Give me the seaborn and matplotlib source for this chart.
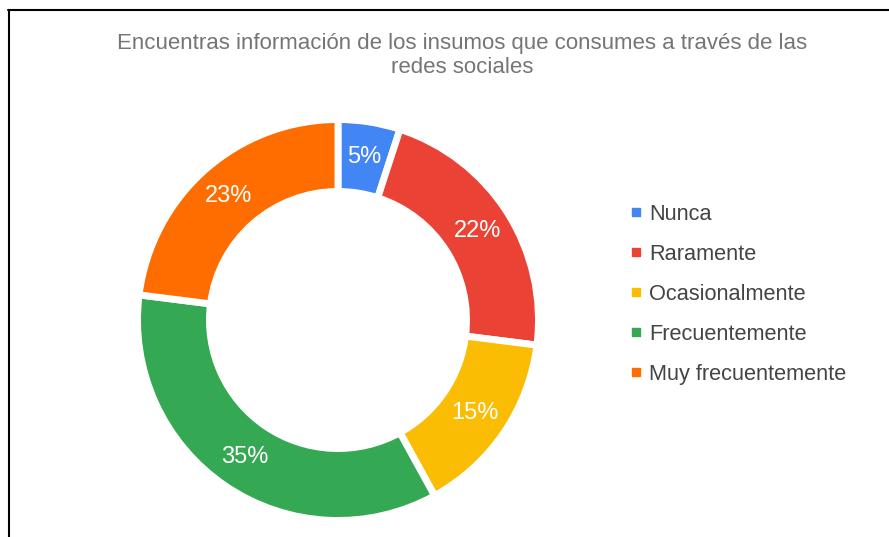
import matplotlib
matplotlib.use("Agg")
import matplotlib.pyplot as plt
from matplotlib.lines import Line2D
import seaborn as sns

categories = ["Nunca", "Raramente", "Ocasionalmente", "Frecuentemente", "Muy frecuentemente"]
values = [5, 22, 15, 35, 23]
colors = ["#4285F4", "#EA4335", "#FBBC04", "#34A853", "#FF6D01"]
title = "Encuentras información de los insumos que consumes a través de las\nredes sociales"

sns.set_theme(style="white")
plt.rcParams["font.family"] = ["Liberation Sans", "DejaVu Sans"]

W, H = 889, 537
fig = plt.figure(figsize=(W / 100, H / 100), dpi=100)
ax = fig.add_axes([0, 0, 1, 1])

R = 200.5
wedges, texts, autotexts = ax.pie(
    values,
    colors=sns.color_palette(colors),
    startangle=90,
    counterclock=False,
    radius=R,
    center=(338, H - 320),
    autopct="%1.0f%%",
    pctdistance=0.825,
    wedgeprops=dict(width=72, edgecolor="white", linewidth=5),
    textprops=dict(color="white", fontsize=17),
)
# pie resets the limits, so put the pixel frame back afterwards
ax.set_xlim(0, W)
ax.set_ylim(0, H)
ax.set_aspect("equal")
ax.axis("off")

fig.text(0.52, 1 - 33 / H, title, ha="center", va="top", fontsize=16,
         color="#757575", linespacing=1.2)

handles = [Line2D([0], [0], marker="s", linestyle="", markersize=5.5,
                  markerfacecolor=c, markeredgecolor=c) for c in colors]
fig.legend(handles, categories, loc="upper left", bbox_to_anchor=(610 / W, 1 - 184 / H),
           frameon=False, fontsize=15.7, labelspacing=0.87, handlelength=0.6,
           handletextpad=0.3, labelcolor="#444444")

# frame lines top and left, as in the screenshot
fig.add_artist(Line2D([8 / W, 1], [1 - 10 / H, 1 - 10 / H], color="black", linewidth=1.5))
fig.add_artist(Line2D([9 / W, 9 / W], [0, 1 - 10 / H], color="black", linewidth=1.5))

fig.savefig("out.png", dpi=100)
